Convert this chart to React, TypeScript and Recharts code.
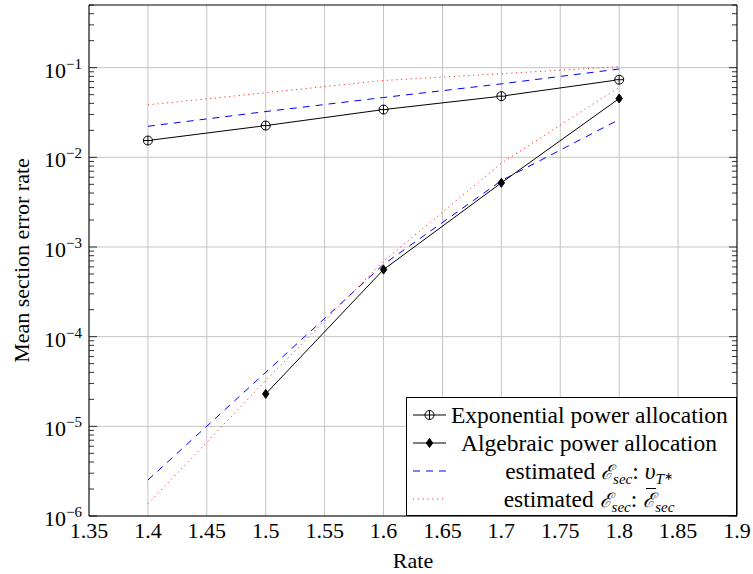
import React from "react";
import { CartesianGrid, Line, LineChart, ReferenceLine, XAxis, YAxis } from "recharts";

const rates = [1.4, 1.5, 1.6, 1.7, 1.8];
const expPower = [0.0154, 0.0226, 0.0341, 0.0481, 0.0734];
const algPower = [null, 2.3e-5, 5.6e-4, 5.2e-3, 0.0453];
const estVtExp = [0.0222, 0.0324, 0.0465, 0.066, 0.0967];
const estVtAlg = [2.52e-6, 4.0e-5, 6.4e-4, 5.5e-3, 0.0264];
const estBarExp = [0.0385, 0.0525, 0.072, 0.0857, 0.1026];
const estBarAlg = [1.37e-6, 3.24e-5, 6.95e-4, 8.6e-3, 0.0607];

const xTicks = [1.35, 1.4, 1.45, 1.5, 1.55, 1.6, 1.65, 1.7, 1.75, 1.8, 1.85, 1.9];
const xTickLabels = ["1.35", "1.4", "1.45", "1.5", "1.55", "1.6", "1.65", "1.7", "1.75", "1.8", "1.85", "1.9"];
const yMajor = [1e-6, 1e-5, 1e-4, 1e-3, 1e-2, 1e-1];
const yMajorExp = ["−6", "−5", "−4", "−3", "−2", "−1"];
const yMax = 0.5;

const yAllTicks = yMajor
  .flatMap((d) => [1, 2, 3, 4, 5, 6, 7, 8, 9].map((m) => m * d))
  .filter((v) => v <= yMax * 1.0001);

const data = rates.map((r, i) => ({
  rate: r,
  exp: expPower[i],
  alg: algPower[i],
  vtExp: estVtExp[i],
  vtAlg: estVtAlg[i],
  barExp: estBarExp[i],
  barAlg: estBarAlg[i],
}));

const FONT = "Liberation Serif, Times New Roman, serif";
const BLUE = "#0000ff";
const RED = "#ff3030";
const DASH = "7 6";
const DOT = "1.2 3.6";

function isMajor(v: number) {
  return yMajor.some((m) => Math.abs(v / m - 1) < 1e-6);
}

function LeftTick(props: any) {
  const { x, y, payload } = props;
  const v = payload.value;
  const idx = yMajor.findIndex((m) => Math.abs(v / m - 1) < 1e-6);
  const major = idx >= 0;
  return (
    <g>
      <line x1={x} x2={x + (major ? 8 : 5)} y1={y} y2={y} stroke="#000" strokeWidth={0.8} />
      {major && (
        <text x={x - 7} y={y + 10} textAnchor="end" fontSize={22} fill="#000" style={{ fontFamily: FONT }}>
          10
          <tspan fontSize={15} dy={-9}>{yMajorExp[idx]}</tspan>
        </text>
      )}
    </g>
  );
}

function RightTick(props: any) {
  const { x, y, payload } = props;
  const major = isMajor(payload.value);
  return <line x1={x} x2={x - (major ? 8 : 5)} y1={y} y2={y} stroke="#000" strokeWidth={0.8} />;
}

function XTick(props: any) {
  const { x, y, payload } = props;
  const idx = xTicks.findIndex((t) => Math.abs(t - payload.value) < 1e-9);
  return (
    <text x={x} y={y + 22} textAnchor="middle" fontSize={22} fill="#000" style={{ fontFamily: FONT }}>
      {idx >= 0 ? xTickLabels[idx] : String(payload.value)}
    </text>
  );
}

function OPlus(props: any) {
  const { cx, cy } = props;
  if (cx == null || cy == null) return <g />;
  return (
    <g>
      <circle cx={cx} cy={cy} r={4.5} fill="#fff" stroke="#000" strokeWidth={1} />
      <line x1={cx - 4.5} x2={cx + 4.5} y1={cy} y2={cy} stroke="#000" strokeWidth={1} />
      <line x1={cx} x2={cx} y1={cy - 4.5} y2={cy + 4.5} stroke="#000" strokeWidth={1} />
    </g>
  );
}

function Diamond(props: any) {
  const { cx, cy } = props;
  if (cx == null || cy == null) return <g />;
  return <path d={`M${cx},${cy - 4.5}L${cx + 3.2},${cy}L${cx},${cy + 4.5}L${cx - 3.2},${cy}Z`} fill="#000" stroke="#000" />;
}

function Sample({ kind }: { kind: string }) {
  return (
    <svg width={44} height={24} style={{ display: "block" }}>
      {kind === "exp" && (
        <>
          <line x1={6} x2={39} y1={12} y2={12} stroke="#000" />
          <OPlus cx={22.5} cy={12} />
        </>
      )}
      {kind === "alg" && (
        <>
          <line x1={6} x2={39} y1={12} y2={12} stroke="#000" />
          <Diamond cx={22.5} cy={12} />
        </>
      )}
      {kind === "vt" && <line x1={6} x2={39} y1={12} y2={12} stroke={BLUE} strokeDasharray={DASH} />}
      {kind === "bar" && <line x1={6} x2={39} y1={12} y2={12} stroke={RED} strokeDasharray={DOT} />}
    </svg>
  );
}

const scriptE = { fontFamily: "DejaVu Serif, serif", fontStyle: "italic", fontSize: 20 } as const;
const subStyle = { fontSize: 15, fontStyle: "italic", verticalAlign: "-5px", lineHeight: 0 } as const;

const legendRows = [
  { kind: "exp", label: <>Exponential power allocation</> },
  { kind: "alg", label: <>Algebraic power allocation</> },
  {
    kind: "vt",
    label: (
      <>
        estimated <span style={scriptE}>ℰ</span><span style={subStyle}>sec</span>: <i>υ</i>
        <span style={subStyle}>T</span>
        <span style={{ fontSize: 11, verticalAlign: "-1px", lineHeight: 0 }}>∗</span>
      </>
    ),
  },
  {
    kind: "bar",
    label: (
      <>
        estimated <span style={scriptE}>ℰ</span><span style={subStyle}>sec</span>:{" "}
        <span style={{ position: "relative", display: "inline-block" }}>
          <span style={scriptE}>ℰ</span>
          <span style={{ position: "absolute", left: 3, right: -1, top: 1, borderTop: "1.3px solid #000" }} />
        </span>
        <span style={subStyle}>sec</span>
      </>
    ),
  },
];

export default function App() {
  return (
    <div style={{ position: "absolute", left: 0, top: 0, width: 753, height: 574, background: "#fff", overflow: "hidden" }}>
      <LineChart width={753} height={574} data={data} margin={{ top: 5, right: 0, bottom: 0, left: 0 }}>
        <CartesianGrid yAxisId="left" stroke="#c4c4c4" strokeWidth={1} horizontalValues={yMajor} />
        <XAxis
          dataKey="rate"
          type="number"
          domain={[1.35, 1.9]}
          ticks={xTicks}
          interval={0}
          height={58}
          tickLine={false}
          tickSize={0}
          tickMargin={0}
          tick={<XTick />}
          axisLine={{ stroke: "#000", strokeWidth: 1 }}
          label={({ viewBox }: any) => (
            <text
              x={viewBox.x + viewBox.width / 2}
              y={568}
              textAnchor="middle"
              fontSize={22}
              fill="#000"
              style={{ fontFamily: FONT }}
            >
              Rate
            </text>
          )}
        />
        <YAxis
          yAxisId="left"
          type="number"
          scale="log"
          domain={[1e-6, yMax]}
          allowDataOverflow
          ticks={yAllTicks}
          interval={0}
          width={89}
          tickLine={false}
          tickSize={0}
          tickMargin={0}
          tick={<LeftTick />}
          axisLine={{ stroke: "#000", strokeWidth: 1 }}
          label={({ viewBox }: any) => (
            <text
              x={29}
              y={viewBox.y + viewBox.height / 2}
              transform={`rotate(-90 29 ${viewBox.y + viewBox.height / 2})`}
              textAnchor="middle"
              fontSize={22}
              fill="#000"
              style={{ fontFamily: FONT }}
            >
              Mean section error rate
            </text>
          )}
        />
        <YAxis
          yAxisId="right"
          orientation="right"
          type="number"
          scale="log"
          domain={[1e-6, yMax]}
          allowDataOverflow
          ticks={yAllTicks}
          interval={0}
          width={16}
          tickLine={false}
          tickSize={0}
          tickMargin={0}
          tick={<RightTick />}
          axisLine={{ stroke: "#000", strokeWidth: 1 }}
        />
        <ReferenceLine yAxisId="left" y={yMax} stroke="#000" strokeWidth={1} ifOverflow="visible" />
        <Line yAxisId="left" dataKey="barExp" stroke={RED} strokeWidth={1} strokeDasharray={DOT} dot={false} isAnimationActive={false} />
        <Line yAxisId="left" dataKey="barAlg" stroke={RED} strokeWidth={1} strokeDasharray={DOT} dot={false} isAnimationActive={false} />
        <Line yAxisId="right" dataKey="vtExp" stroke={BLUE} strokeWidth={1} strokeDasharray={DASH} dot={false} isAnimationActive={false} />
        <Line yAxisId="right" dataKey="vtAlg" stroke={BLUE} strokeWidth={1} strokeDasharray={DASH} dot={false} isAnimationActive={false} />
        <Line yAxisId="left" dataKey="exp" stroke="#000" strokeWidth={1} dot={<OPlus />} isAnimationActive={false} />
        <Line yAxisId="left" dataKey="alg" stroke="#000" strokeWidth={1} dot={<Diamond />} isAnimationActive={false} />
      </LineChart>
      <div
        style={{
          position: "absolute",
          left: 406,
          top: 397,
          width: 331,
          height: 119,
          boxSizing: "border-box",
          border: "1px solid #000",
          background: "#fff",
          fontFamily: FONT,
          fontSize: 23.5,
          color: "#000",
          paddingTop: 3,
        }}
      >
        {legendRows.map((r) => (
          <div key={r.kind} style={{ display: "flex", alignItems: "center", height: 28 }}>
            <div style={{ width: 44, height: 24 }}>
              <Sample kind={r.kind} />
            </div>
            <div style={{ width: 276, textAlign: "center", lineHeight: "24px", whiteSpace: "nowrap" }}>{r.label}</div>
          </div>
        ))}
      </div>
    </div>
  );
}
